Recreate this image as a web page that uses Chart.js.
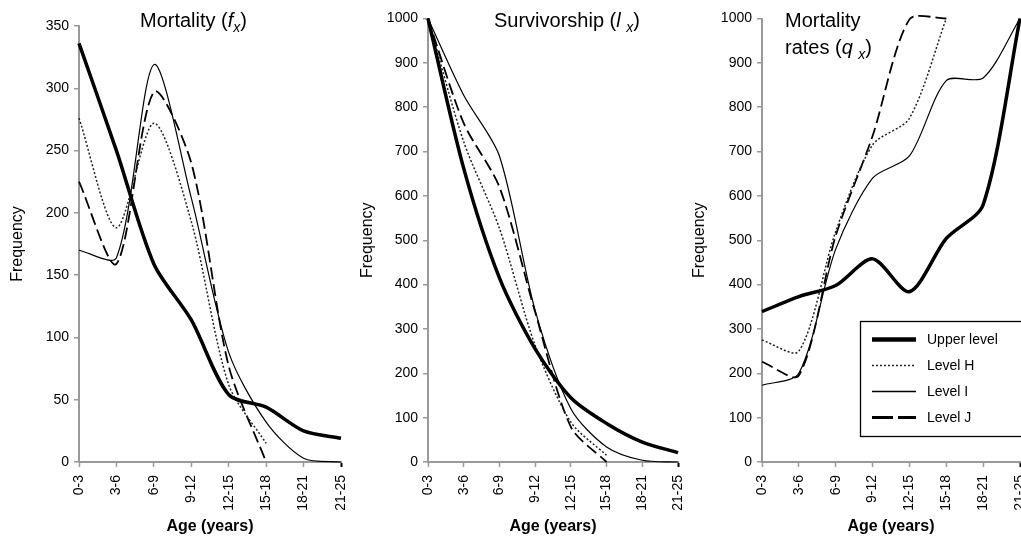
<!DOCTYPE html>
<html>
<head>
<meta charset="utf-8">
<script src="https://cdn.jsdelivr.net/npm/chart.js@4.4.1/dist/chart.umd.min.js"></script>
<style>
  html, body { margin: 0; padding: 0; background: #fff; overflow: hidden; }
  body { position: relative; width: 1021px; height: 547px; }
  canvas { position: absolute; top: 0; }
</style>
</head>
<body>
<canvas id="fxChart" width="352" height="547" style="left:0px"></canvas>
<canvas id="lxChart" width="338" height="547" style="left:352px"></canvas>
<canvas id="qxChart" width="350" height="547" style="left:690px"></canvas>
<script>
const ageLabels = ['0-3', '3-6', '6-9', '9-12', '12-15', '15-18', '18-21', '21-25'];
const seriesNames = ['Upper level', 'Level H', 'Level I', 'Level J'];

// mortality f(x)
const fxUpper = [336, 250, 159, 114, 54, 44, 25, 19];
const fxLevelH = [276, 188, 272, 193, 62, 15, null, null];
const fxLevelI = [170, 164, 319, 212, 88, 32, 3, 0];
const fxLevelJ = [225, 159, 297, 240, 77, 0, null, null];

// survivorship l(x)
const lxUpper = [1000, 662, 415, 255, 145, 87, 45, 21];
const lxLevelH = [1000, 722, 527, 263, 90, 15, null, null];
const lxLevelI = [1000, 827, 690, 342, 120, 34, 4, 0];
const lxLevelJ = [1000, 764, 620, 338, 79, 0, null, null];

// mortality rates q(x)
const qxUpper = [339, 373, 398, 458, 384, 504, 580, 1000];
const qxLevelH = [275, 250, 520, 715, 775, 1000, null, null];
const qxLevelI = [173, 200, 480, 640, 690, 860, 866, 1000];
const qxLevelJ = [226, 195, 510, 735, 998, 1000, null, null];

const FONT = '"Liberation Sans", Arial, sans-serif';
Chart.defaults.font.family = FONT;
Chart.defaults.color = '#000';

const lineStyles = [
  { borderWidth: 3.5, borderDash: [] },          // Upper level
  { borderWidth: 1.5, borderDash: [2, 2] },      // Level H
  { borderWidth: 1.2, borderDash: [] },          // Level I
  { borderWidth: 1.8, borderDash: [12, 5] }      // Level J
];

const makeDatasets = (upper, h, i, j) => [upper, h, i, j].map((data, k) => ({
  label: seriesNames[k],
  data: data,
  borderColor: k === 1 ? '#222' : '#000',
  borderWidth: lineStyles[k].borderWidth,
  borderDash: lineStyles[k].borderDash,
  pointRadius: 0,
  fill: false,
  tension: 0.28,
  clip: false
}));

// panel heading with italic / subscript pieces
const titlePlugin = (lines) => ({
  id: 'titleRuns',
  afterDraw(chart) {
    const ctx = chart.ctx;
    ctx.save();
    ctx.fillStyle = '#000';
    ctx.textAlign = 'left';
    ctx.textBaseline = 'alphabetic';
    lines.forEach(line => {
      let x = line.x;
      line.runs.forEach(run => {
        const size = run.sub ? 14 : 20;
        ctx.font = (run.italic ? 'italic ' : '') + size + 'px ' + FONT;
        ctx.fillText(run.text, x, line.y + (run.sub ? 5 : 0));
        x += ctx.measureText(run.text).width;
      });
    });
    ctx.restore();
  }
});

// boxed legend inside the rates panel
const legendPlugin = {
  id: 'legendBox',
  afterDraw(chart) {
    const ctx = chart.ctx;
    const left = 170, top = 321, rows = [339.5, 365.5, 391.5, 417.5];
    const sampleWidths = [4.5, 1.5, 1.3, 3.2];
    const sampleDash = [[], [2, 2], [], [21, 5]];
    ctx.save();
    ctx.fillStyle = '#fff';
    ctx.fillRect(left, top, 200, 115);
    ctx.strokeStyle = '#000';
    ctx.lineWidth = 1.3;
    ctx.strokeRect(left + 0.5, top + 0.5, 200, 115);
    seriesNames.forEach((name, k) => {
      ctx.beginPath();
      ctx.setLineDash(sampleDash[k]);
      ctx.lineWidth = sampleWidths[k];
      ctx.strokeStyle = k === 1 ? '#222' : '#000';
      ctx.moveTo(182, rows[k]);
      ctx.lineTo(226, rows[k]);
      ctx.stroke();
      ctx.setLineDash([]);
      ctx.fillStyle = '#000';
      ctx.font = '14px ' + FONT;
      ctx.textBaseline = 'middle';
      ctx.fillText(name, 237, rows[k] + 1);
    });
    ctx.restore();
  }
};

const buildOptions = (cfg) => ({
  responsive: false,
  animation: false,
  devicePixelRatio: 1,
  layout: { padding: cfg.padding },
  elements: { line: { capBezierPoints: false, borderJoinStyle: 'round' } },
  plugins: { legend: { display: false }, tooltip: { enabled: false } },
  scales: {
    x: {
      type: 'category',
      offset: false,
      grid: {
        drawOnChartArea: false,
        tickLength: 5,
        color: '#999',
        tickColor: (c) => c.index === ageLabels.length - 1 ? '#000' : '#999',
        tickWidth: (c) => c.index === ageLabels.length - 1 ? 2 : 1.5
      },
      border: { color: '#999', width: 2 },
      ticks: { minRotation: 90, maxRotation: 90, autoSkip: false, padding: 8, font: { size: 14 } },
      title: {
        display: true,
        text: 'Age (years)',
        font: { size: 16, weight: 'bold', lineHeight: 1.2 },
        padding: { top: 0, bottom: 11 }
      },
      afterFit(scale) {
        scale.height = 85;
        scale.paddingLeft = 0;
        scale.paddingRight = 0;
      }
    },
    y: {
      min: 0,
      max: cfg.yMax,
      grid: { drawOnChartArea: false, tickLength: 5, color: '#999', lineWidth: 1.5 },
      border: { color: '#999', width: 2 },
      ticks: { stepSize: cfg.yStep, padding: 5, font: { size: 14 }, callback: (v) => String(v) },
      title: {
        display: true,
        text: 'Frequency',
        font: { size: 16, lineHeight: 1.2 },
        padding: { top: cfg.titlePad, bottom: 0 }
      },
      afterFit(scale) {
        scale.width = cfg.yWidth;
        scale.paddingTop = 0;
        scale.paddingBottom = 0;
      }
    }
  }
});

new Chart(document.getElementById('fxChart'), {
  type: 'line',
  data: { labels: ageLabels, datasets: makeDatasets(fxUpper, fxLevelH, fxLevelI, fxLevelJ) },
  options: buildOptions({ yMax: 350, yStep: 50, yWidth: 79, titlePad: 8.4,
    padding: { left: 0, right: 11, top: 26, bottom: 0 } }),
  plugins: [titlePlugin([
    { x: 140, y: 27, runs: [
      { text: 'Mortality (' }, { text: 'f', italic: true }, { text: 'x', italic: true, sub: true }, { text: ')' }
    ] }
  ])]
});

new Chart(document.getElementById('lxChart'), {
  type: 'line',
  data: { labels: ageLabels, datasets: makeDatasets(lxUpper, lxLevelH, lxLevelI, lxLevelJ) },
  options: buildOptions({ yMax: 1000, yStep: 100, yWidth: 76, titlePad: 6.4,
    padding: { left: 0, right: 12, top: 18.5, bottom: 0 } }),
  plugins: [titlePlugin([
    { x: 142, y: 27, runs: [
      { text: 'Survivorship (' }, { text: 'l', italic: true }, { text: ' ' },
      { text: 'x', italic: true, sub: true }, { text: ')' }
    ] }
  ])]
});

new Chart(document.getElementById('qxChart'), {
  type: 'line',
  data: { labels: ageLabels, datasets: makeDatasets(qxUpper, qxLevelH, qxLevelI, qxLevelJ) },
  options: buildOptions({ yMax: 1000, yStep: 100, yWidth: 72, titlePad: 0.4,
    padding: { left: 0, right: 20, top: 18.5, bottom: 0 } }),
  plugins: [titlePlugin([
    { x: 95, y: 27, runs: [{ text: 'Mortality' }] },
    { x: 95, y: 53.5, runs: [
      { text: 'rates (' }, { text: 'q', italic: true }, { text: ' ' },
      { text: 'x', italic: true, sub: true }, { text: ')' }
    ] }
  ]), legendPlugin]
});
</script>
</body>
</html>
